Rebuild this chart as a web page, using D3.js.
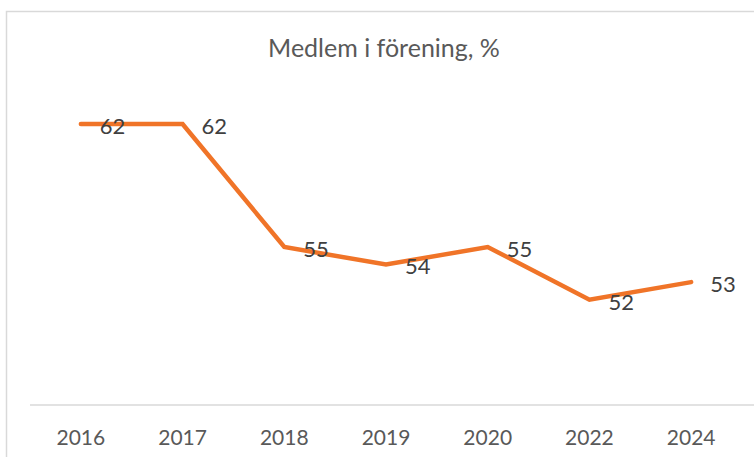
<!DOCTYPE html>
<html><head><meta charset="utf-8">
<script src="https://cdn.jsdelivr.net/npm/d3@7"></script>
<style>body{margin:0;background:#fff}svg{display:block}</style>
</head><body>
<script>
const categories = ["2016","2017","2018","2019","2020","2022","2024"];
const values = [62,62,55,54,55,52,53];
const title = "Medlem i förening, %";

const W = 754, H = 457;
const svg = d3.select("body").append("svg").attr("width", W).attr("height", H);

// chart border (extends past window)
svg.append("rect").attr("x", 6.5).attr("y", 11.5).attr("width", 800).attr("height", 500)
  .attr("fill", "#fff").attr("stroke", "#D9D9D9").attr("stroke-width", 1.5);

const x = d3.scaleBand().domain(categories).range([30, 742]);
const y = d3.scaleLinear().domain([46, 64]).range([405, 89]);

svg.append("text").attr("x", 384).attr("y", 57).attr("text-anchor", "middle")
  .attr("font-family", "Lato, Carlito, sans-serif").attr("font-size", 25).attr("fill", "#595959")
  .text(title);

const xAxis = svg.append("g").attr("transform", `translate(0,${y(46)})`)
  .call(d3.axisBottom(x).tickSize(0).tickPadding(25));
xAxis.select(".domain").attr("stroke", "#D9D9D9").attr("stroke-width", 1.5).attr("d", "M30,0H760");
xAxis.selectAll("text").attr("font-family", "Lato, Carlito, sans-serif").attr("font-size", 21).attr("fill", "#595959");

const line = d3.line().x((d, i) => x(categories[i]) + x.bandwidth() / 2).y(d => y(d));
svg.append("path").datum(values).attr("d", line).attr("fill", "none")
  .attr("stroke", "#F07428").attr("stroke-width", 4.5).attr("stroke-linejoin", "miter").attr("stroke-linecap", "round");

svg.selectAll(".lbl").data(values).enter().append("text").attr("class", "lbl")
  .attr("x", (d, i) => x(categories[i]) + x.bandwidth() / 2 + 19)
  .attr("y", d => y(d)).attr("dy", "0.45em")
  .attr("font-family", "Lato, Carlito, sans-serif").attr("font-size", 22).attr("fill", "#404040")
  .text(d => d);
</script>
</body></html>
